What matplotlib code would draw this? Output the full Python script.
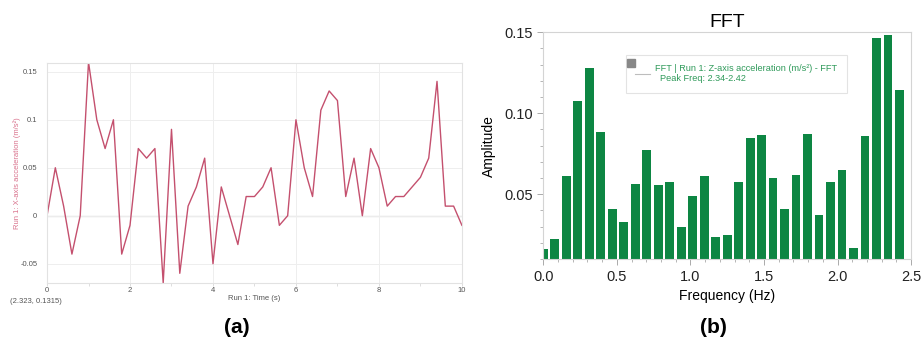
import numpy as np
import matplotlib
matplotlib.use("Agg")
import matplotlib.pyplot as plt
from matplotlib.lines import Line2D
from matplotlib.patches import Rectangle
from matplotlib.ticker import MultipleLocator

plt.rcParams['font.family'] = ['Liberation Sans', 'DejaVu Sans']

# (a) time series, sampled every 0.2 s
time_s = [round(0.2 * i, 1) for i in range(51)]
accel_x = [0, 0.05, 0.01, -0.04, 0, 0.16, 0.10, 0.07, 0.10, -0.04,
           -0.01, 0.07, 0.06, 0.07, -0.07, 0.09, -0.06, 0.01, 0.03, 0.06,
           -0.05, 0.03, 0, -0.03, 0.02, 0.02, 0.03, 0.05, -0.01, 0,
           0.10, 0.05, 0.02, 0.11, 0.13, 0.12, 0.02, 0.06, 0, 0.07,
           0.05, 0.01, 0.02, 0.02, 0.03, 0.04, 0.06, 0.14, 0.01, 0.01,
           -0.01]

# (b) FFT amplitudes, bin spacing 1/12.8 Hz
freq_step = 0.078125
fft_amp = [0.0162, 0.0227, 0.0613, 0.1074, 0.1277, 0.0881, 0.0410, 0.0328,
           0.0561, 0.0773, 0.0555, 0.0574, 0.0297, 0.0490, 0.0613, 0.0238,
           0.0250, 0.0578, 0.0848, 0.0867, 0.0600, 0.0410, 0.0619, 0.0873,
           0.0371, 0.0574, 0.0648, 0.0168, 0.0860, 0.1463, 0.1484, 0.1141]
freqs = [freq_step * k for k in range(len(fft_amp))]

fig = plt.figure(figsize=(9.24, 3.45), dpi=100)

# ---- panel (a) ----
ax1 = fig.add_axes([0.0509, 0.180, 0.449, 0.637])
ax1.plot(time_s, accel_x, color='#c4506e', lw=1.0)
ax1.axhline(0, color='#c8c8c8', lw=0.9, zorder=0)
ax1.set_xlim(0, 10)
ax1.set_ylim(-0.07, 0.159)
ax1.set_xticks([0, 2, 4, 6, 8, 10])
ax1.set_xticklabels(['0', '2', '4', '6', '8', '10'])
ax1.xaxis.set_minor_locator(MultipleLocator(1))
ax1.set_yticks([-0.05, 0, 0.05, 0.1, 0.15])
ax1.set_yticklabels(['-0.05', '0', '0.05', '0.1', '0.15'])
ax1.grid(True, color='#eeeeee', lw=0.7)
ax1.set_axisbelow(True)
for sp in ax1.spines.values():
    sp.set_color('#e2e2e2')
    sp.set_linewidth(0.8)
ax1.tick_params(axis='both', which='both', labelsize=5.5, colors='#d8d8d8',
                labelcolor='#555555', length=2, width=0.6, pad=1)
ax1.tick_params(axis='y', length=0, pad=7)
ax1.set_ylabel('Run 1: X-axis acceleration (m/s²)', fontsize=5.5,
               color='#d9718c')
ax1.yaxis.set_label_coords(-0.062, 0.5)
ax1.set_xlabel('Run 1: Time (s)', fontsize=5.5, color='#555555', labelpad=1)
fig.text(0.011, 0.122, '(2.323, 0.1315)', fontsize=5.5, color='#555555')
fig.text(0.256, 0.035, '(a)', fontsize=15, fontweight='bold', ha='center')

# ---- panel (b) ----
ax2 = fig.add_axes([0.588, 0.248, 0.398, 0.659])
ax2.bar(freqs, fft_amp, width=0.059, color='#0d8643', zorder=2)
ax2.set_xlim(0, 2.5)
ax2.set_ylim(0.0098, 0.15)
ax2.set_xticks([0, 0.5, 1.0, 1.5, 2.0, 2.5])
ax2.set_xticklabels(['0.0', '0.5', '1.0', '1.5', '2.0', '2.5'])
ax2.set_yticks([0.05, 0.10, 0.15])
ax2.set_yticklabels(['0.05', '0.10', '0.15'])
ax2.xaxis.set_minor_locator(MultipleLocator(0.1))
ax2.yaxis.set_minor_locator(MultipleLocator(0.01))
for sp in ax2.spines.values():
    sp.set_color('#d4d4d4')
    sp.set_linewidth(0.8)
ax2.tick_params(axis='both', which='major', labelsize=10.5, colors='#aaaaaa',
                labelcolor='#222222', length=4, width=0.7)
ax2.tick_params(axis='both', which='minor', colors='#aaaaaa', length=2.5,
                width=0.6)
ax2.set_title('FFT', fontsize=14, pad=4)
ax2.set_ylabel('Amplitude', fontsize=10, labelpad=6)
ax2.set_xlabel('Frequency (Hz)', fontsize=10, labelpad=4)

handle = Line2D([], [], color='#bdbdbd', lw=0.8)
leg = ax2.legend([handle],
                 ['FFT | Run 1: Z-axis acceleration (m/s²) - FFT\n  Peak Freq: 2.34-2.42'],
                 loc='upper left', bbox_to_anchor=(0.225, 0.9), fontsize=6.6,
                 labelcolor='#2f9a5a', frameon=True, fancybox=False,
                 handlelength=1.6, handletextpad=0.6, borderpad=1.0,
                 borderaxespad=0)
leg.get_frame().set_edgecolor('#dddddd')
leg.get_frame().set_linewidth(0.8)
ax2.add_patch(Rectangle((0.228, 0.848), 0.02, 0.032, transform=ax2.transAxes,
                        color='#888888', zorder=6, clip_on=False))
fig.text(0.772, 0.035, '(b)', fontsize=15, fontweight='bold', ha='center')

fig.savefig('out.png', dpi=100)
